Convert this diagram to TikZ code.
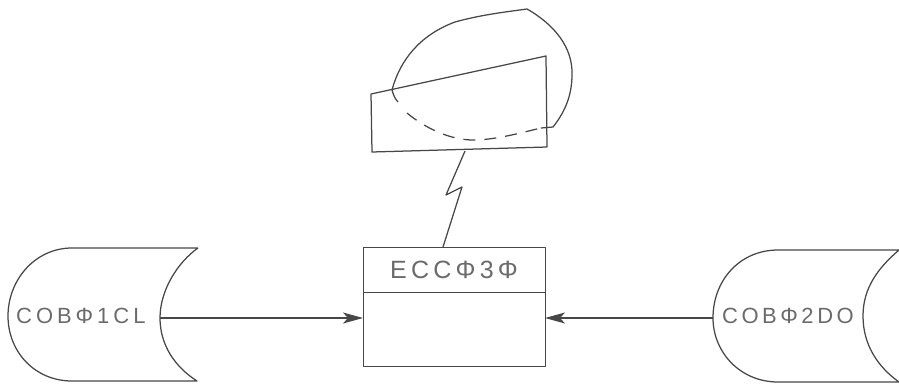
\documentclass[tikz,border=0pt]{standalone}
\usepackage{fontspec}
\setmainfont{Liberation Sans}
\usetikzlibrary{arrows.meta}
\tikzset{
  ink/.style={draw=black!72,line width=1.25pt,line join=round},
  lab/.style={text=black!58,inner sep=0pt},
  tapelab/.style={lab,font=\fontsize{22}{22}\selectfont},
  headlabel/.style={lab,font=\fontsize{25}{25}\selectfont},
  flow/.style={ink,-{Stealth[length=20pt,width=11pt,inset=5pt]}}
}
\begin{document}
\begin{tikzpicture}[x=1pt,y=-1pt]
\useasboundingbox (0,0) rectangle (899,383);
% centre box
\node[ink,minimum width=182pt,minimum height=45pt,inner sep=0pt,anchor=north west] (head) at (363,247) {};
\node[ink,minimum width=182pt,minimum height=74pt,inner sep=0pt,anchor=north west] (body) at (363,292) {};
\node[headlabel] (headlab) at (454,270) {\addfontfeature{LetterSpace=17}ECCΦ3Φ};
% left tape
\coordinate (lt) at (198,248);
\coordinate (lb) at (197,381);
\coordinate (lm) at (160,318);
\draw[ink] (lt) -- (72,248) .. controls (35,248) and (8,280) .. (8,316)
  .. controls (8,352) and (35,381) .. (72,381) -- (lb)
  .. controls (175,367) and (160,345) .. (lm)
  .. controls (160,290) and (178,262) .. (lt);
\node[tapelab,anchor=west] (llab) at (16,316) {\addfontfeature{LetterSpace=18}COBΦ1CL};
% right tape
\coordinate (rt) at (899,250);
\coordinate (rb) at (899,382);
\coordinate (rm) at (713,318);
\draw[ink] (rt) -- (778,250) .. controls (740,250) and (713,280) .. (rm)
  .. controls (713,352) and (740,382) .. (778,382) -- (rb)
  .. controls (878,367) and (863,345) .. (863,316)
  .. controls (863,288) and (878,268) .. (rt);
\node[tapelab,anchor=west] (rlab) at (722,316) {\addfontfeature{LetterSpace=16}COBΦ2DO};
% connectors
\draw[flow] (lm) -- (363,318);
\draw[flow] (rm) -- (545,318);
% terminal
\draw[ink] (371,94) -- (546,56) -- (547,147) -- (372,152) -- cycle;
\coordinate (ca) at (392,90);
\coordinate (cb) at (553,127);
\draw[ink] (ca) .. controls (400,60) and (420,35) .. (455,22)
  .. controls (480,15) and (505,12) .. (527,9)
  .. controls (555,25) and (573,48) .. (572,75)
  .. controls (572,95) and (565,112) .. (cb) -- (541,128);
\draw[ink] (ca) .. controls (393,94) and (395,99) .. (398,102);
\draw[ink,dash pattern=on 12pt off 9pt] (407,113)
  .. controls (425,128) and (450,140) .. (473,140)
  .. controls (495,140) and (520,133) .. (541,128);
% lightning
\coordinate (z0) at (465,151);
\coordinate (z1) at (446,195);
\coordinate (z2) at (462,187);
\coordinate (z3) at (443,247);
\draw[ink] (z0) -- (z1) -- (z2) -- (z3);
\end{tikzpicture}
\end{document}
